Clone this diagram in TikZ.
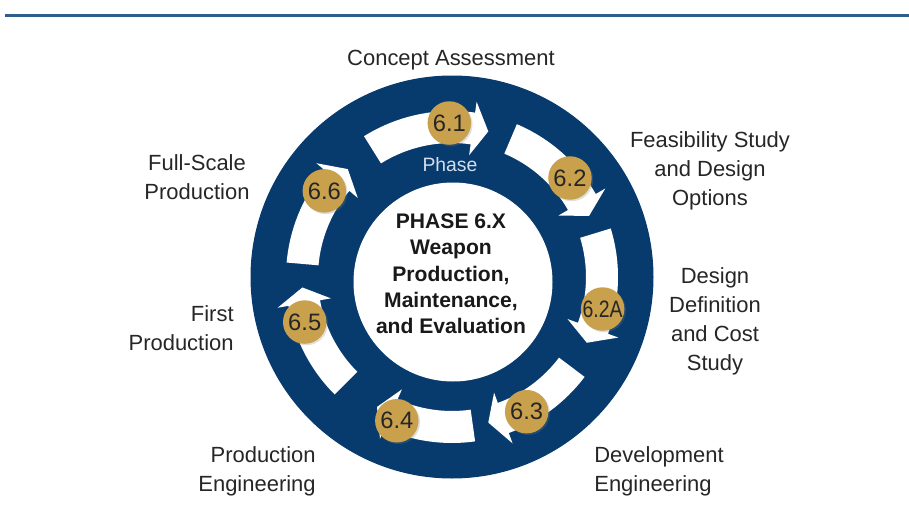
\documentclass[tikz,border=0pt]{standalone}
\usepackage{fontspec}
\setmainfont{Liberation Sans}
\usetikzlibrary{positioning, shadows}
\usepackage{xcolor}
\definecolor{ringNavy}{HTML}{073B6E}
\definecolor{badgeGold}{HTML}{C9A04C}
\definecolor{ruleBlue}{HTML}{2F5E8E}
\definecolor{phaseTint}{HTML}{D3DFEC}

\begin{document}
\begin{tikzpicture}[
    stage/.style={inner sep=0pt, align=center, text=black!85,
                  font=\fontsize{12.5}{16.5}\selectfont},
    badge/.style={circle, fill=badgeGold, minimum size=0.87cm, inner sep=0pt,
                  text=black!85, font=\fontsize{13.5}{15}\selectfont,
                  drop shadow={opacity=0.25, shadow xshift=0.03cm, shadow yshift=-0.03cm}},
    flow/.style={fill=white},
  ]
  \useasboundingbox (0,0) rectangle (18.18,10.38);
  \draw[ruleBlue, line width=1.7pt] (0.1,10.07) -- (18.18,10.07);

  % ring and centre disc
  \coordinate (hub) at (9.04,4.84);
  \fill[ringNavy] (hub) circle (4.03);
  \node[circle, fill=white, minimum size=3.98cm, inner sep=0pt] (core) at (9.06,4.74) {};
  \node[font=\bfseries\fontsize{12}{15}\selectfont, align=center, text=black!90]
    (title) at (9.02,4.9)
    {PHASE 6.X\\Weapon\\Production,\\Maintenance,\\and Evaluation};
  \node[text=phaseTint, font=\fontsize{11}{13}\selectfont] (phase) at (9.0,7.08) {Phase};

  % curved step arrows
  \foreach \from/\to in {122/76, 67/24, 17/-26, -37/-76, -82/-120, -135/-176, 175/134} {
    \pgfmathsetmacro{\neck}{\to+6}
    \fill[flow, shift={(hub)}]
      (\from:3.32) arc[start angle=\from, end angle=\neck, radius=3.32]
      -- (\neck:3.54) -- (\to:3.0) -- (\neck:2.46) -- (\neck:2.68)
      arc[start angle=\neck, end angle=\from, radius=2.68] -- cycle;
  }

  % step badges
  \foreach \at/\num [count=\k] in {91/6.1, 40/6.2, -12/{\scalebox{0.82}[1]{6.2A}},
                                   -61/6.3, -111/6.4, -163/6.5, 146/6.6}
    \node[badge] (badge\k) at ([shift={(\at:3.08)}]hub) {\num};

  \node[stage] (concept) at (9.02,9.18) {Concept Assessment};
  \node[stage] (feasible) at (14.2,6.96) {Feasibility Study\\and Design\\Options};
  \node[stage] (definition) at (14.3,3.95) {Design\\Definition\\and Cost\\Study};
  \node[stage, anchor=west, align=left] (develop) at (11.88,0.95) {Development\\Engineering};
  \node[stage, anchor=east, align=right] (prodeng) at (6.32,0.95) {Production\\Engineering};
  \node[stage, anchor=east, align=right] (first) at (4.68,3.82) {First\\Production};
  \node[stage] (fullscale) at (3.94,6.83) {Full-Scale\\Production};
\end{tikzpicture}
\end{document}
